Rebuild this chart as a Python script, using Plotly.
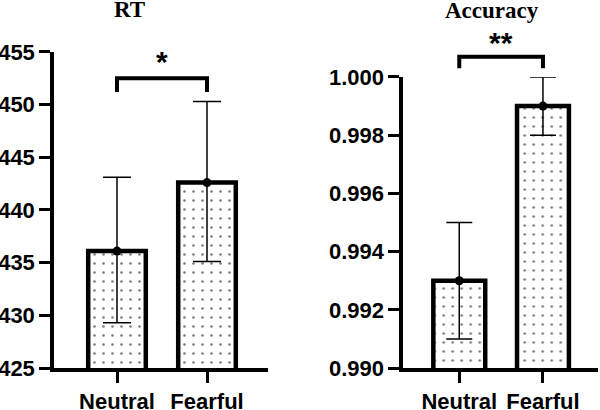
import plotly.graph_objects as go
from plotly.subplots import make_subplots

# data
conditions = ["Neutral", "Fearful"]
rt_mean = [436.1, 442.6]
rt_err_plus = [7.0, 7.7]
rt_err_minus = [6.8, 7.5]
rt_ticks = [425, 430, 435, 440, 445, 450, 455]
rt_bracket_low, rt_bracket_high = 451.2, 452.5
rt_star_y = 454.1

acc_mean = [0.993, 0.999]
acc_err_plus = [0.002, 0.001]
acc_err_minus = [0.002, 0.001]
acc_ticks = [0.990, 0.992, 0.994, 0.996, 0.998, 1.000]
acc_bracket_low, acc_bracket_high = 1.0003, 1.0007
acc_star_y = 1.0012

rt_xrange = [-0.7, 1.68]
acc_xrange = [-0.67, 1.66]

fig = make_subplots(rows=1, cols=2)

tick_font = dict(family="Liberation Sans", size=22, color="black", weight="bold")
star_font = dict(family="Liberation Sans", size=30, color="black", weight="bold")
title_font = dict(family="Liberation Serif", size=23, color="black", weight="bold")


def frac(v, rng):
    # value -> fraction of the axis domain (so marks above the range are not clipped)
    return (v - rng[0]) / (rng[1] - rng[0])


def add_panel(col, means, eplus, eminus, bar_w, cap):
    fig.add_trace(go.Bar(
        x=conditions, y=means, width=bar_w,
        marker=dict(color="white", line=dict(color="black", width=4.5),
                    pattern=dict(shape=".", fgcolor="black", bgcolor="white",
                                 size=9, solidity=0.07)),
        error_y=dict(type="data", symmetric=False, array=eplus, arrayminus=eminus,
                     color="black", thickness=1.5, width=cap),
        showlegend=False), row=1, col=col)
    fig.add_trace(go.Scatter(
        x=conditions, y=means, mode="markers",
        marker=dict(color="black", size=9), showlegend=False), row=1, col=col)


def add_bracket(ax, xrng, yrng, low, high, star_y, stars):
    x0, x1 = frac(0, xrng), frac(1, xrng)
    y0, y1 = frac(low, yrng), frac(high, yrng)
    fig.add_shape(type="path", xref=ax[0] + " domain", yref=ax[1] + " domain",
                  path=f"M {x0},{y0} L {x0},{y1} L {x1},{y1} L {x1},{y0}",
                  line=dict(color="black", width=4))
    fig.add_annotation(text=stars, x=frac(0.5, xrng), y=frac(star_y, yrng),
                       xref=ax[0] + " domain", yref=ax[1] + " domain",
                       xanchor="center", yanchor="middle",
                       showarrow=False, font=star_font)


add_panel(1, rt_mean, rt_err_plus, rt_err_minus, 0.64, 14)
add_panel(2, acc_mean, acc_err_plus, acc_err_minus, 0.62, 13)

axis_common = dict(showline=True, linecolor="black", linewidth=3.5,
                   ticks="outside", tickcolor="black", tickwidth=2.5,
                   showgrid=False, zeroline=False, tickfont=tick_font,
                   automargin=False)

fig.update_xaxes(axis_common, ticklen=11)
fig.update_yaxes(axis_common, ticklen=11)

fig.update_layout(
    width=600, height=410,
    margin=dict(l=0, r=0, t=0, b=0),
    plot_bgcolor="white", paper_bgcolor="white",
    xaxis=dict(domain=[0.09, 0.447], range=rt_xrange),
    yaxis=dict(domain=[0.1024, 0.8732], range=[rt_ticks[0], rt_ticks[-1]], tickvals=rt_ticks),
    xaxis2=dict(domain=[0.672, 0.997], range=acc_xrange),
    yaxis2=dict(domain=[0.1024, 0.8122], range=[acc_ticks[0], acc_ticks[-1]],
                tickvals=acc_ticks, tickformat=".3f"),
)

add_bracket(("x", "y"), rt_xrange, [rt_ticks[0], rt_ticks[-1]],
            rt_bracket_low, rt_bracket_high, rt_star_y, "*")
add_bracket(("x2", "y2"), acc_xrange, [acc_ticks[0], acc_ticks[-1]],
            acc_bracket_low, acc_bracket_high, acc_star_y, "**")

fig.add_annotation(text="RT", x=0.215, y=0.977, xref="paper", yref="paper",
                   xanchor="center", yanchor="middle", showarrow=False, font=title_font)
fig.add_annotation(text="Accuracy", x=0.82, y=0.975, xref="paper", yref="paper",
                   xanchor="center", yanchor="middle", showarrow=False, font=title_font)

# no page margin so the 600x410 figure fills the window
fig.write_html("out.html", config={"displayModeBar": False},
               post_script="document.body.style.margin='0';")
